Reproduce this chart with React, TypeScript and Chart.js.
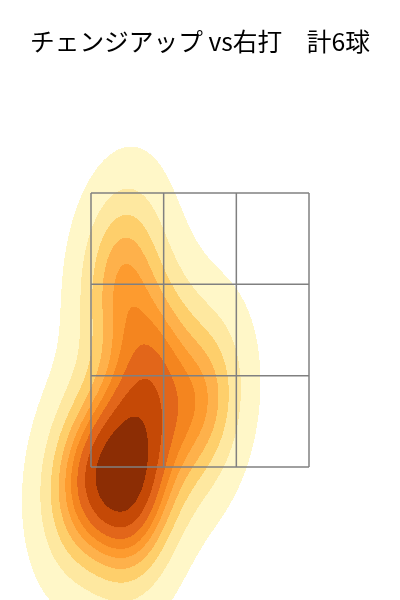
import React, { useEffect, useRef } from "react";
import { Chart, registerables } from "chart.js";

Chart.register(...registerables);

const TITLE = "チェンジアップ vs右打　計6球";

// pitch locations (plate_x ft, plate_z ft)
const PITCH_X = [-0.914, -0.457, -0.624, -0.366, -0.609, 0.023];
const PITCH_Z = [1.42, 1.215, 1.493, 2.266, 2.938, 1.953];

// strike zone grid lines
const ZONE_X = [-0.83, -0.2767, 0.2767, 0.83];
const ZONE_Z = [1.5, 2.1667, 2.8333, 3.5];

// iso-proportion levels of the density plot
const ISO_PROPS = [0.05, 0.1556, 0.2611, 0.3667, 0.4722, 0.5778, 0.6833, 0.7889, 0.8944, 1.0];
const BAND_COLORS = [
  "#fff7c8",
  "#fee8a0",
  "#fecf6b",
  "#feb14b",
  "#fd9b2f",
  "#f4851f",
  "#e2661a",
  "#c54906",
  "#8c2d04",
];

const X_RANGE = [-1.5229, 1.5229];
const Z_RANGE = [0.5292, 4.3248];

function hexToRgb(h: string) {
  const v = parseInt(h.slice(1), 16);
  return [(v >> 16) & 255, (v >> 8) & 255, v & 255];
}

function makeKde(xs: number[], ys: number[]) {
  const n = xs.length;
  const mx = xs.reduce((a, b) => a + b, 0) / n;
  const my = ys.reduce((a, b) => a + b, 0) / n;
  let sxx = 0, syy = 0, sxy = 0;
  for (let i = 0; i < n; i++) {
    const dx = xs[i] - mx, dy = ys[i] - my;
    sxx += dx * dx; syy += dy * dy; sxy += dx * dy;
  }
  sxx /= n - 1; syy /= n - 1; sxy /= n - 1;
  const f = Math.pow(n, -1 / 6);
  const f2 = f * f;
  const a = sxx * f2, d = syy * f2, b = sxy * f2;
  const det = a * d - b * b;
  const ia = d / det, id = a / det, ib = -b / det;
  const norm = 1 / (2 * Math.PI * Math.sqrt(det) * n);
  const dens = (x: number, y: number) => {
    let s = 0;
    for (let i = 0; i < n; i++) {
      const dx = x - xs[i], dy = y - ys[i];
      s += Math.exp(-0.5 * (ia * dx * dx + 2 * ib * dx * dy + id * dy * dy));
    }
    return s * norm;
  };
  return { dens, bwx: Math.sqrt(a), bwy: Math.sqrt(d) };
}

function computeLevels(kde: ReturnType<typeof makeKde>, xs: number[], ys: number[]) {
  const gs = 200, cut = 3;
  const x0 = Math.min(...xs) - cut * kde.bwx, x1 = Math.max(...xs) + cut * kde.bwx;
  const y0 = Math.min(...ys) - cut * kde.bwy, y1 = Math.max(...ys) + cut * kde.bwy;
  const vals: number[] = [];
  for (let j = 0; j < gs; j++) {
    const y = y0 + ((y1 - y0) * j) / (gs - 1);
    for (let i = 0; i < gs; i++) {
      const x = x0 + ((x1 - x0) * i) / (gs - 1);
      vals.push(kde.dens(x, y));
    }
  }
  vals.sort((p, q) => q - p);
  const total = vals.reduce((p, q) => p + q, 0);
  const cum: number[] = [];
  let c = 0;
  for (const v of vals) { c += v; cum.push(c / total); }
  return ISO_PROPS.map((p) => {
    const t = 1 - p;
    let idx = cum.findIndex((v) => v >= t);
    if (idx < 0) idx = vals.length - 1;
    return vals[idx];
  });
}

export default function App() {
  const ref = useRef<HTMLCanvasElement | null>(null);
  useEffect(() => {
    if (!ref.current) return;
    const kde = makeKde(PITCH_X, PITCH_Z);
    const levels = computeLevels(kde, PITCH_X, PITCH_Z);
    const rgb = BAND_COLORS.map(hexToRgb);

    const kdePlugin = {
      id: "kdeFill",
      beforeDatasetsDraw(chart: any) {
        const { ctx, chartArea, scales } = chart;
        const w = Math.round(chartArea.right - chartArea.left);
        const h = Math.round(chartArea.bottom - chartArea.top);
        const off = document.createElement("canvas");
        off.width = w; off.height = h;
        const octx = off.getContext("2d")!;
        const img = octx.createImageData(w, h);
        const xv: number[] = [];
        for (let px = 0; px < w; px++) xv.push(scales.x.getValueForPixel(chartArea.left + px + 0.5));
        for (let py = 0; py < h; py++) {
          const yv = scales.y.getValueForPixel(chartArea.top + py + 0.5);
          for (let px = 0; px < w; px++) {
            const dv = kde.dens(xv[px], yv);
            if (dv < levels[0]) continue;
            let b = 0;
            while (b < BAND_COLORS.length - 1 && dv >= levels[b + 1]) b++;
            const k = (py * w + px) * 4;
            img.data[k] = rgb[b][0];
            img.data[k + 1] = rgb[b][1];
            img.data[k + 2] = rgb[b][2];
            img.data[k + 3] = 255;
          }
        }
        octx.putImageData(img, 0, 0);
        ctx.drawImage(off, chartArea.left, chartArea.top);
      },
    };

    const lines: any[] = [];
    for (const x of ZONE_X) {
      lines.push({ data: [{ x, y: ZONE_Z[0] }, { x, y: ZONE_Z[ZONE_Z.length - 1] }] });
    }
    for (const z of ZONE_Z) {
      lines.push({ data: [{ x: ZONE_X[0], y: z }, { x: ZONE_X[ZONE_X.length - 1], y: z }] });
    }
    const datasets = lines.map((l) => ({
      ...l,
      showLine: true,
      borderColor: "#808080",
      borderWidth: 1.5,
      pointRadius: 0,
      fill: false,
    }));

    const chart = new Chart(ref.current, {
      type: "scatter",
      data: { datasets },
      options: {
        animation: false,
        responsive: false,
        layout: { padding: 0 },
        scales: {
          x: { type: "linear", min: X_RANGE[0], max: X_RANGE[1], display: false },
          y: { type: "linear", min: Z_RANGE[0], max: Z_RANGE[1], display: false },
        },
        plugins: {
          legend: { display: false },
          tooltip: { enabled: false },
          title: {
            display: true,
            text: TITLE,
            color: "#000000",
            font: { family: "'Noto Sans CJK JP', 'Noto Sans', sans-serif", size: 24.7, weight: "normal", lineHeight: 1.2 },
            padding: { top: 27, bottom: 23.4 },
          },
        },
      },
      plugins: [kdePlugin],
    });
    return () => chart.destroy();
  }, []);

  return (
    <div style={{ position: "absolute", left: 0, top: 0, width: 400, height: 600, background: "#ffffff" }}>
      <canvas ref={ref} width={400} height={600} style={{ display: "block" }} />
    </div>
  );
}
